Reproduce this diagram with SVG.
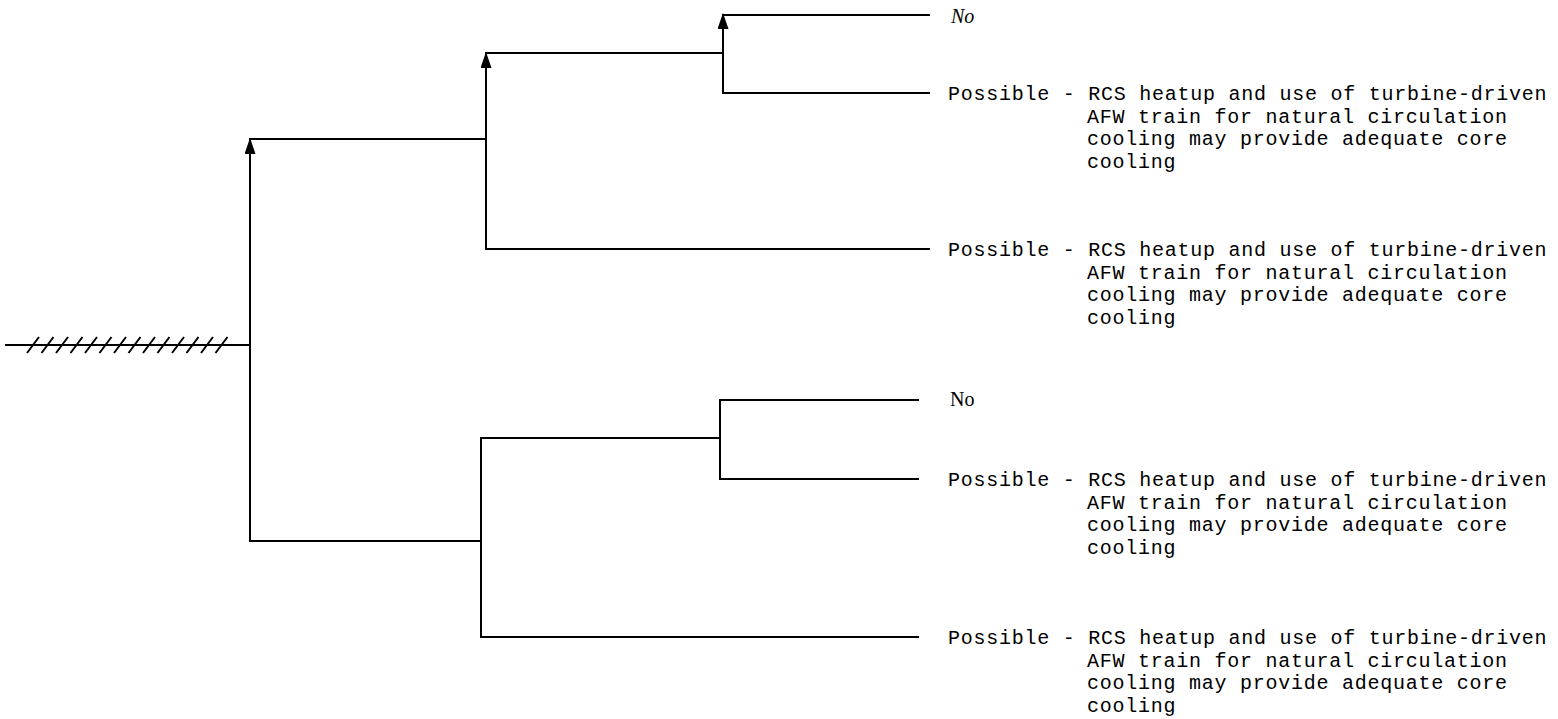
<svg xmlns="http://www.w3.org/2000/svg" width="1558" height="719" viewBox="0 0 1558 719">
  <style>
    .ln { stroke: #000; stroke-width: 2; fill: none; stroke-linecap: square; }
    .ar { stroke: #000; stroke-width: 2; fill: none; stroke-linecap: butt; marker-end: url(#arr); }
    .h { stroke: #000; stroke-width: 2; fill: none; }
    .t { font-family: "Liberation Mono", "DejaVu Sans Mono", monospace; font-size: 20px; letter-spacing: 0.75px; fill: #000; }
    .no { font-family: "Liberation Serif", "DejaVu Serif", serif; font-size: 20px; fill: #000; }
  </style>
  <defs>
    <marker id="arr" viewBox="0 0 16 11" refX="15" refY="5.5" markerWidth="16" markerHeight="11" markerUnits="userSpaceOnUse" orient="auto">
      <path d="M0,0 L16,5.5 L0,11 Z" fill="#000"/>
    </marker>
  </defs>
  <rect width="1558" height="719" fill="#fff"/>

  <g id="start">
    <line class="ln" x1="6" y1="345" x2="250" y2="345"/>
    <path class="h" d="M27,353 l12,-16 M41.5,353 l12,-16 M56,353 l12,-16 M70.5,353 l12,-16 M85,353 l12,-16 M99.5,353 l12,-16 M114,353 l12,-16 M128.5,353 l12,-16 M143,353 l12,-16 M157.5,353 l12,-16 M172,353 l12,-16 M186.5,353 l12,-16 M201,353 l12,-16 M215.5,353 l12,-16"/>
  </g>

  <g id="connectors">
    <!-- main trunk -->
    <line class="ar" x1="250" y1="541" x2="250" y2="139"/>
    <!-- upper tree -->
    <line class="ln" x1="250" y1="139" x2="486" y2="139"/>
    <line class="ar" x1="486" y1="249" x2="486" y2="53"/>
    <line class="ln" x1="486" y1="53" x2="723" y2="53"/>
    <line class="ar" x1="723" y1="93" x2="723" y2="14"/>
    <line class="ln" x1="723" y1="15" x2="929" y2="15"/>
    <line class="ln" x1="723" y1="93" x2="929" y2="93"/>
    <line class="ln" x1="486" y1="249" x2="929" y2="249"/>
    <!-- lower tree -->
    <line class="ln" x1="250" y1="541" x2="481" y2="541"/>
    <line class="ln" x1="481" y1="438" x2="481" y2="637"/>
    <line class="ln" x1="481" y1="438" x2="720" y2="438"/>
    <line class="ln" x1="720" y1="400" x2="720" y2="479"/>
    <line class="ln" x1="720" y1="400" x2="918" y2="400"/>
    <line class="ln" x1="720" y1="479" x2="918" y2="479"/>
    <line class="ln" x1="481" y1="637" x2="918" y2="637"/>
  </g>

  <g id="outcome1">
    <text class="no" x="951" y="23" font-style="italic">No</text>
  </g>
  <g id="outcome2">
    <text class="t" x="948" y="100">Possible - RCS heatup and use of turbine-driven</text>
    <text class="t" x="1087" y="122.5">AFW train for natural circulation</text>
    <text class="t" x="1087" y="145">cooling may provide adequate core</text>
    <text class="t" x="1087" y="167.5">cooling</text>
  </g>
  <g id="outcome3">
    <text class="t" x="948" y="256">Possible - RCS heatup and use of turbine-driven</text>
    <text class="t" x="1087" y="278.5">AFW train for natural circulation</text>
    <text class="t" x="1087" y="301">cooling may provide adequate core</text>
    <text class="t" x="1087" y="323.5">cooling</text>
  </g>
  <g id="outcome4">
    <text class="no" x="950" y="406">No</text>
  </g>
  <g id="outcome5">
    <text class="t" x="948" y="486">Possible - RCS heatup and use of turbine-driven</text>
    <text class="t" x="1087" y="508.5">AFW train for natural circulation</text>
    <text class="t" x="1087" y="531">cooling may provide adequate core</text>
    <text class="t" x="1087" y="553.5">cooling</text>
  </g>
  <g id="outcome6">
    <text class="t" x="948" y="644">Possible - RCS heatup and use of turbine-driven</text>
    <text class="t" x="1087" y="666.5">AFW train for natural circulation</text>
    <text class="t" x="1087" y="689">cooling may provide adequate core</text>
    <text class="t" x="1087" y="711.5">cooling</text>
  </g>
</svg>
